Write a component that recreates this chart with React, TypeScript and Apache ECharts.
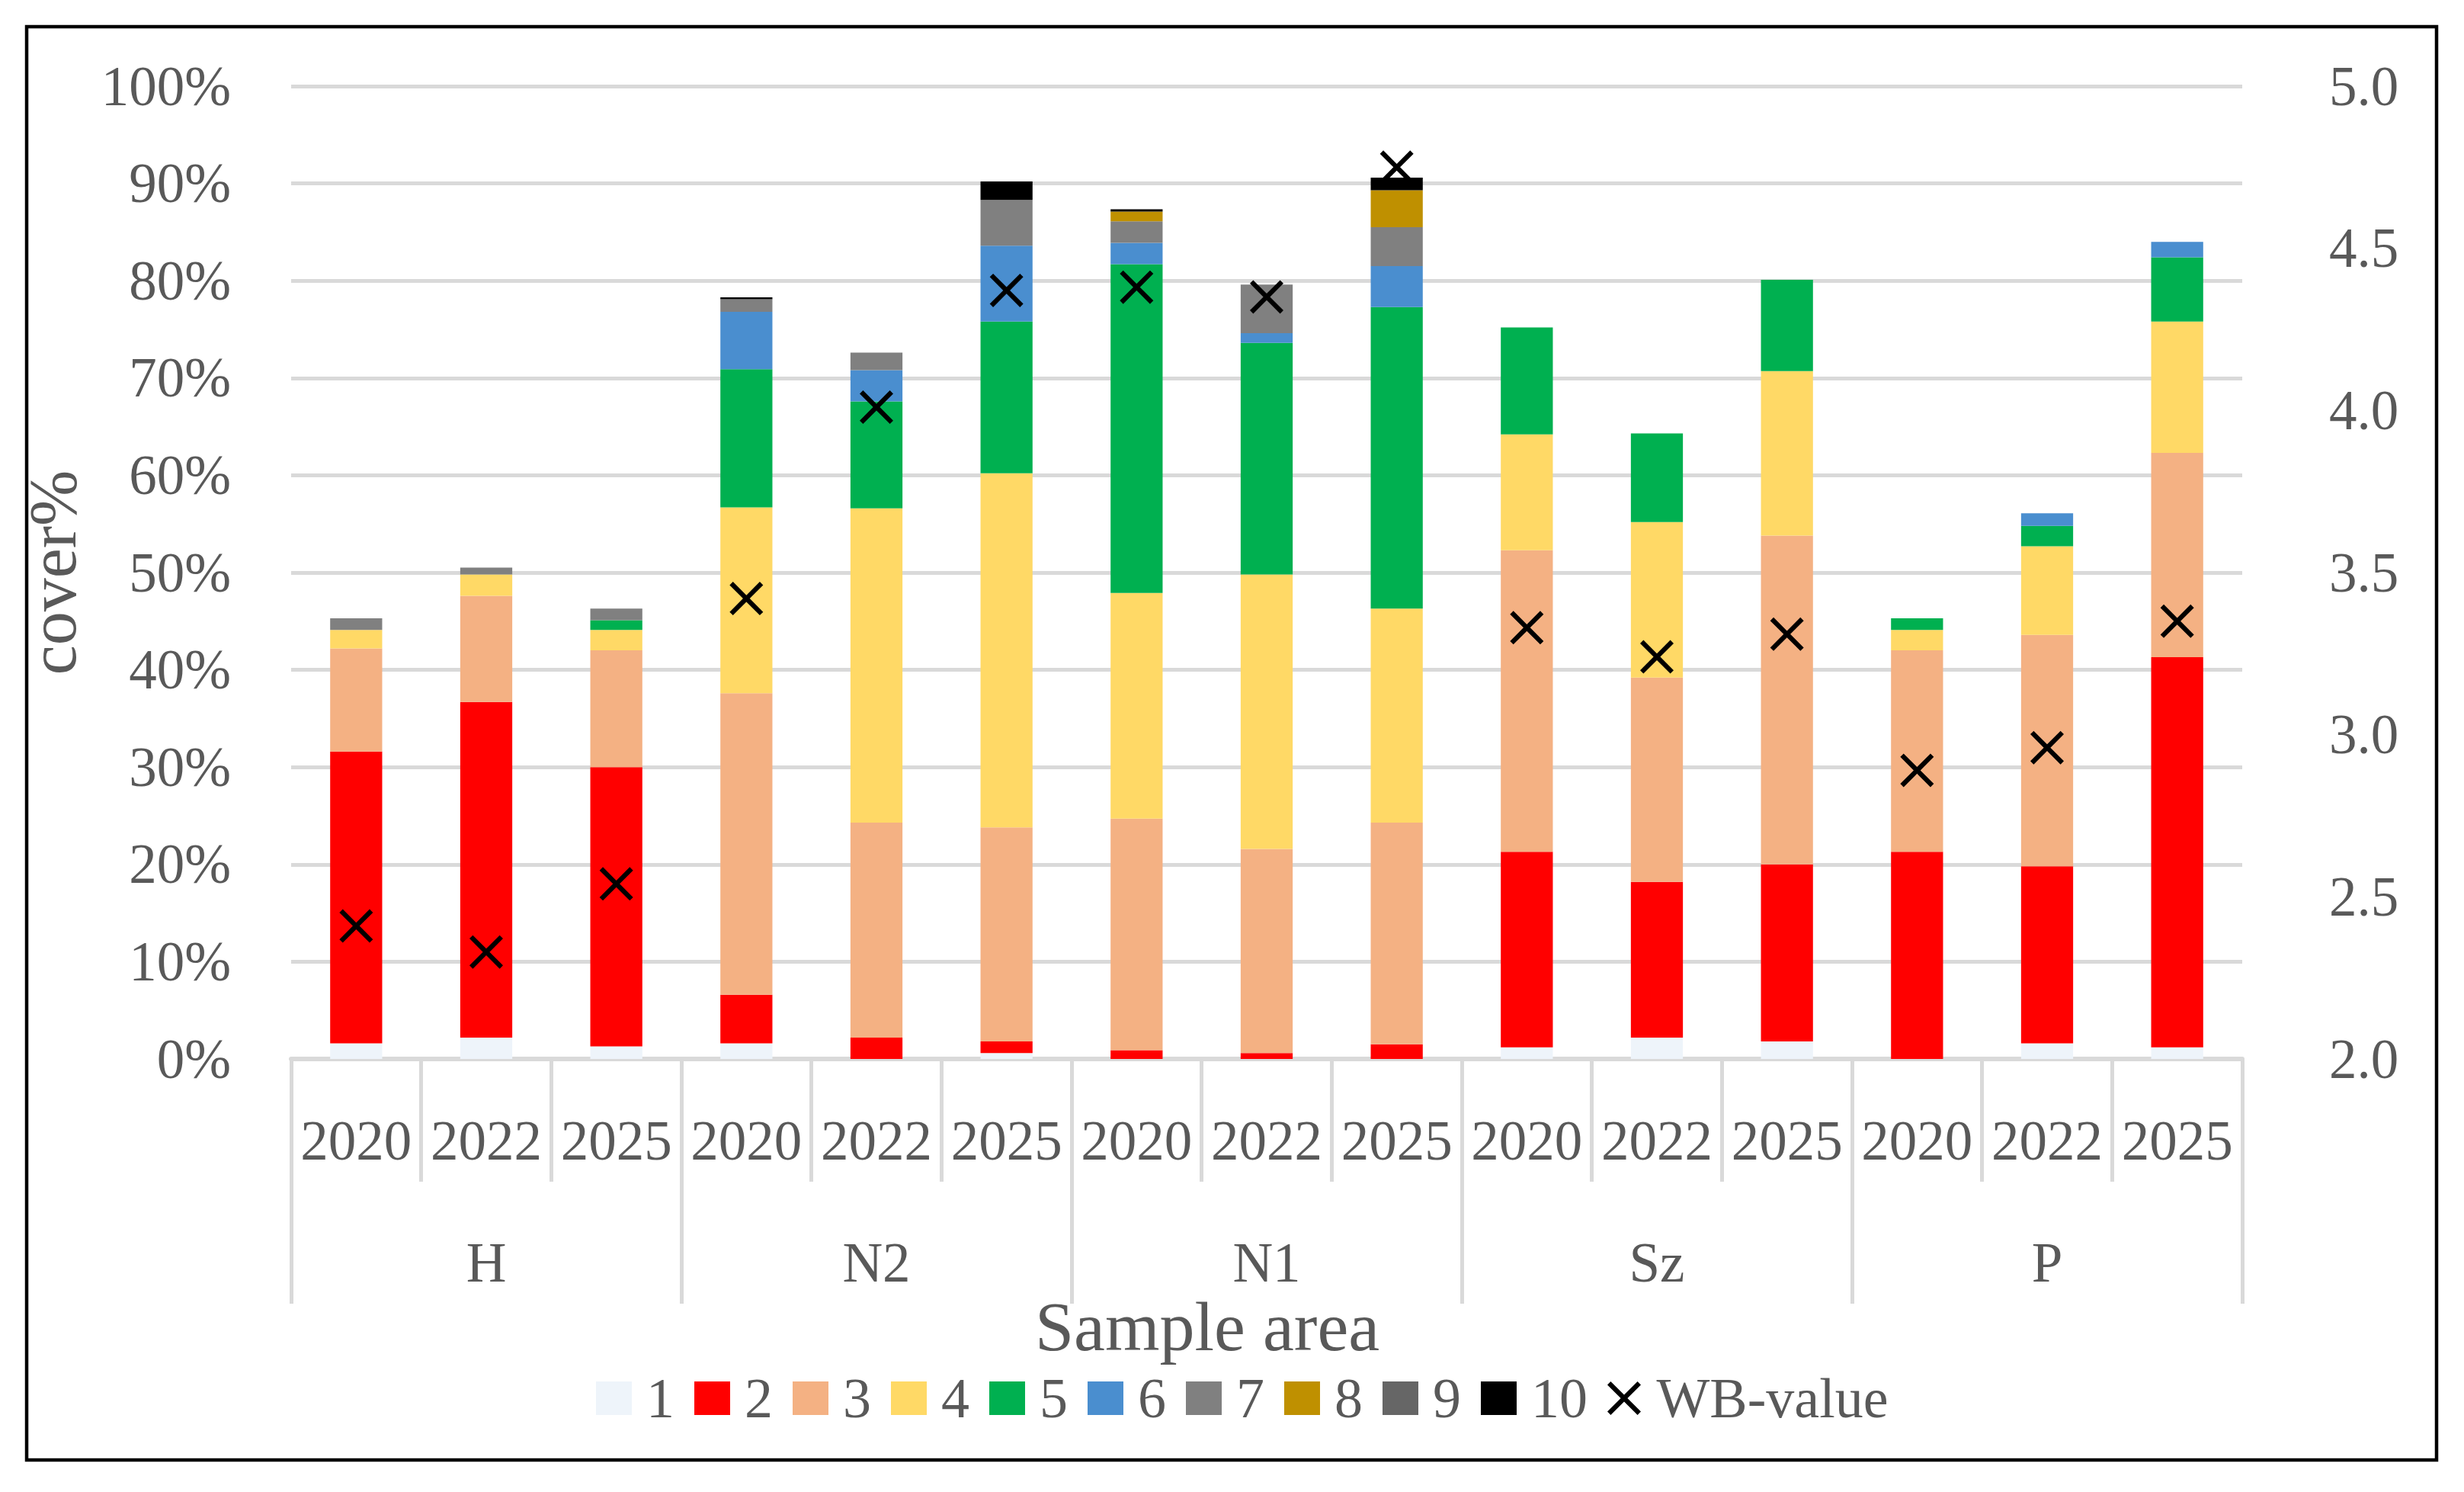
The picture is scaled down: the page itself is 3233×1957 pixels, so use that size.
import { useEffect, useRef } from "react";
import * as echarts from "echarts";

const groups = ["H", "N2", "N1", "Sz", "P"];
const years = ["2020", "2022", "2025"];
const seriesNames = ["1", "2", "3", "4", "5", "6", "7", "8", "9", "10"];
const colors = [
  "#EEF4FA",
  "#FF0000",
  "#F4B183",
  "#FFD966",
  "#00B050",
  "#4A8ECF",
  "#808080",
  "#BF9000",
  "#666666",
  "#000000",
];

// cover %, order: H 2020/2022/2025, N2 ..., N1 ..., Sz ..., P ...
const cover1 = [1.6, 2.2, 1.3, 1.6, 0, 0.6, 0, 0, 0, 1.2, 2.2, 1.8, 0, 1.6, 1.2];
const cover2 = [30.0, 34.5, 28.7, 5.0, 2.2, 1.2, 0.9, 0.6, 1.5, 20.1, 16.0, 18.2, 21.3, 18.2, 40.1];
const cover3 = [10.6, 10.9, 12.0, 31.0, 22.1, 22.0, 23.8, 21.0, 22.8, 31.0, 21.0, 33.8, 20.7, 23.8, 21.0];
const cover4 = [1.9, 2.2, 2.1, 19.1, 32.3, 36.4, 23.2, 28.2, 22.0, 11.9, 16.0, 16.9, 2.1, 9.1, 13.5];
const cover5 = [0, 0, 1.0, 14.2, 11.0, 15.6, 33.8, 23.8, 31.0, 11.0, 9.1, 9.4, 1.2, 2.1, 6.6];
const cover6 = [0, 0, 0, 5.9, 3.2, 7.8, 2.2, 1.0, 4.2, 0, 0, 0, 0, 1.3, 1.6];
const cover7 = [1.2, 0.7, 1.2, 1.3, 1.8, 4.7, 2.2, 5.0, 4.0, 0, 0, 0, 0, 0, 0];
const cover8 = [0, 0, 0, 0, 0, 0, 1.0, 0, 3.8, 0, 0, 0, 0, 0, 0];
const cover9 = [0, 0, 0, 0, 0, 0, 0, 0, 0, 0, 0, 0, 0, 0, 0];
const cover10 = [0, 0, 0, 0.2, 0, 1.9, 0.25, 0, 1.3, 0, 0, 0, 0, 0, 0];
const wbValue = [2.41, 2.33, 2.54, 3.42, 4.01, 4.37, 4.38, 4.35, 4.75, 3.33, 3.24, 3.31, 2.89, 2.96, 3.35];

const coverTicks = [0, 100, 10];
const wbTicks = [2, 5, 0.5];

const FONT = "Liberation Serif";
const TEXT = "#595959";
const GRIDLINE = "#D9D9D9";
const X_MARK = "path://M0,1L1,0L5,4L9,0L10,1L6,5L10,9L9,10L5,6L1,10L0,9L4,5Z";

const App = () => {
  const chartRef = useRef<HTMLDivElement>(null);

  useEffect(() => {
    if (!chartRef.current) return;
    const chart = echarts.init(chartRef.current, null, { renderer: "svg" });
    const categories = groups.flatMap((g) => years.map((y) => `${g} ${y}`));
    const coverSeries = [cover1, cover2, cover3, cover4, cover5, cover6, cover7, cover8, cover9, cover10];

    chart.setOption({
      animation: false,
      backgroundColor: "#fff",
      textStyle: { fontFamily: FONT },
      grid: { left: 382, right: 291, top: 113, bottom: 568 },
      legend: {
        left: 782,
        top: 1797,
        padding: 0,
        itemWidth: 47,
        itemHeight: 44,
        itemGap: 26,
        icon: "rect",
        textStyle: { fontSize: 74, color: TEXT, fontFamily: FONT, padding: [0, 0, 0, 14] },
        data: [
          ...seriesNames.map((n) => ({ name: n, icon: "rect" })),
          { name: "WB-value", icon: X_MARK, itemStyle: { color: "#000" } },
        ],
      },
      xAxis: [
        {
          type: "category",
          data: categories,
          position: "bottom",
          axisLine: { show: true, lineStyle: { color: GRIDLINE, width: 6 } },
          axisTick: {
            show: true,
            alignWithLabel: false,
            interval: 0,
            length: 161,
            lineStyle: { color: GRIDLINE, width: 5 },
          },
          axisLabel: {
            interval: 0,
            margin: 107,
            verticalAlign: "middle",
            fontSize: 73,
            color: TEXT,
            fontFamily: FONT,
            formatter: (v: string) => v.split(" ")[1],
          },
        },
        {
          type: "category",
          data: groups,
          position: "bottom",
          axisLine: { show: false },
          axisTick: {
            show: true,
            alignWithLabel: false,
            interval: 0,
            length: 321,
            lineStyle: { color: GRIDLINE, width: 5 },
          },
          axisLabel: {
            interval: 0,
            margin: 267,
            verticalAlign: "middle",
            fontSize: 73,
            color: TEXT,
            fontFamily: FONT,
          },
          splitLine: { show: false },
        },
      ],
      yAxis: [
        {
          type: "value",
          min: coverTicks[0],
          max: coverTicks[1],
          interval: coverTicks[2],
          name: "cover%",
          nameLocation: "middle",
          nameGap: 269,
          nameRotate: 90,
          nameTextStyle: { fontSize: 88, color: TEXT, fontFamily: FONT },
          axisLine: { show: false },
          axisTick: { show: false },
          axisLabel: { formatter: "{value}%", margin: 79, fontSize: 73, color: TEXT, fontFamily: FONT },
          splitLine: { show: true, lineStyle: { color: GRIDLINE, width: 5 } },
        },
        {
          type: "value",
          position: "right",
          min: wbTicks[0],
          max: wbTicks[1],
          interval: wbTicks[2],
          axisLine: { show: false },
          axisTick: { show: false },
          axisLabel: {
            formatter: (v: number) => v.toFixed(1),
            margin: 114,
            fontSize: 73,
            color: TEXT,
            fontFamily: FONT,
          },
          splitLine: { show: false },
        },
      ],
      series: [
        ...coverSeries.map((data, i) => ({
          name: seriesNames[i],
          type: "bar",
          stack: "cover",
          xAxisIndex: 0,
          yAxisIndex: 0,
          barWidth: "40%",
          itemStyle: { color: colors[i] },
          data,
        })),
        {
          name: "WB-value",
          type: "scatter",
          xAxisIndex: 0,
          yAxisIndex: 1,
          symbol: X_MARK,
          symbolSize: 44,
          itemStyle: { color: "#000", opacity: 1 },
          z: 10,
          data: wbValue,
        },
      ],
      graphic: [
        {
          type: "rect",
          shape: { x: 35, y: 35, width: 3162, height: 1880 },
          style: { fill: "none", stroke: "#000", lineWidth: 4.5 },
          silent: true,
        },
        {
          type: "text",
          x: 1584,
          y: 1740,
          style: {
            text: "Sample area",
            fontSize: 92,
            fontFamily: FONT,
            fill: TEXT,
            align: "center",
            verticalAlign: "middle",
          },
        },
      ],
    });

    return () => {
      chart.dispose();
    };
  }, []);

  return (
    <div
      ref={chartRef}
      style={{ position: "fixed", left: 0, top: 0, width: "3233px", height: "1957px", background: "#fff" }}
    ></div>
  );
};

export default App;
